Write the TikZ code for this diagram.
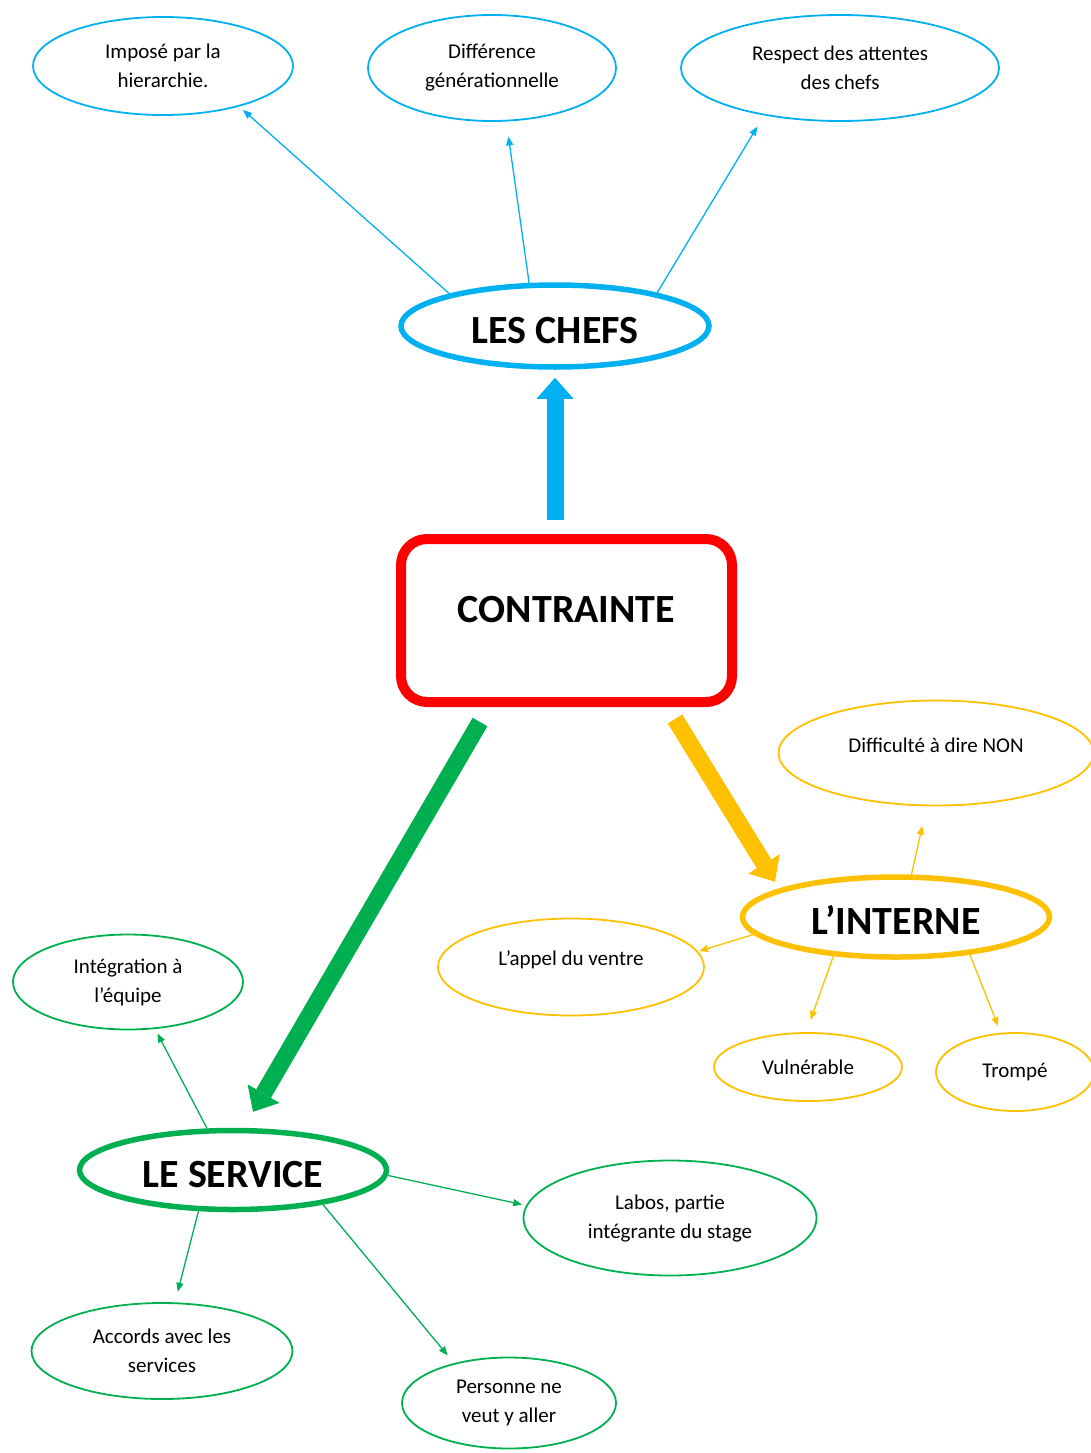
\documentclass[tikz,border=0pt]{standalone}
\usepackage{fontspec}
\setmainfont{Carlito}
\usetikzlibrary{shapes.geometric, arrows.meta, positioning}
\definecolor{chefblue}{RGB}{0,176,240}
\definecolor{boxred}{RGB}{255,0,0}
\definecolor{servgreen}{RGB}{0,176,80}
\definecolor{interngold}{RGB}{255,192,0}

\begin{document}
\begin{tikzpicture}[
    x=1pt, y=-1pt,
    idea/.style={ellipse, draw=#1, line width=1.8pt, inner sep=0pt, align=center, font=\fontsize{21}{29}\selectfont},
    theme/.style={ellipse, draw=#1, line width=5.5pt, inner sep=0pt, text height=34pt, text depth=0pt, font=\fontsize{40}{46}\selectfont\bfseries},
    core/.style={rectangle, draw=boxred, line width=10pt, rounded corners=26pt, inner sep=0pt, font=\fontsize{40}{46}\selectfont\bfseries},
    link/.style={-{Triangle[length=9pt,width=7pt]}, line width=1.3pt, draw=#1},
    fat/.style={-{Triangle[length=21pt,width=37pt,line width=0pt]}, line width=17pt, draw=#1}
]
\useasboundingbox (0,0) rectangle (1090,1453);

% Centre
\node[core, minimum width=331pt, minimum height=163pt, text depth=22pt] (contrainte) at (566.5,620.5) {CONTRAINTE};

% Les chefs
\node[theme=chefblue, minimum width=308pt, minimum height=82pt] (chefs) at (555,326) {LES CHEFS};
\node[idea=chefblue, minimum width=260pt, minimum height=98pt] (impose) at (163,66) {Imposé par la\\hierarchie.};
\node[idea=chefblue, minimum width=248pt, minimum height=106pt] (generation) at (492,68) {Différence\\générationnelle};
\node[idea=chefblue, minimum width=318pt, minimum height=106pt] (attentes) at (840,68) {Respect des attentes\\des chefs};

% L'interne
\node[theme=interngold, minimum width=307pt, minimum height=80pt] (interne) at (896,917) {L’INTERNE};
\node[idea=interngold, minimum width=315pt, minimum height=105pt, text depth=16pt] (direnon) at (936,753) {Difficulté à dire NON};
\node[idea=interngold, minimum width=266pt, minimum height=97pt, text depth=18pt] (ventre) at (571,967) {L’appel du ventre};
\node[idea=interngold, minimum width=188pt, minimum height=68pt] (vulnerable) at (808,1067) {Vulnérable};
\node[idea=interngold, minimum width=158pt, minimum height=78pt] (trompe) at (1015,1072) {Trompé};

% Le service
\node[theme=servgreen, minimum width=307pt, minimum height=79pt] (service) at (233,1170) {LE SERVICE};
\node[idea=servgreen, minimum width=230pt, minimum height=95pt] (equipe) at (128,982) {Intégration à\\l’équipe};
\node[idea=servgreen, minimum width=293pt, minimum height=115pt] (labos) at (670,1218) {Labos, partie\\intégrante du stage};
\node[idea=servgreen, minimum width=261pt, minimum height=96pt] (accords) at (162,1351) {Accords avec les\\services};
\node[idea=servgreen, minimum width=214pt, minimum height=91pt] (personne) at (509,1403) {Personne ne\\veut y aller};

% Big arrows
\draw[fat=chefblue, shorten <=14pt, shorten >=8pt] (chefs.south |- contrainte.north) -- (chefs.south);
\draw[fat=servgreen] ([xshift=-86.5pt, yshift=-15pt]contrainte.south) -- ([xshift=20pt, yshift=16pt]service.north);
\draw[fat=interngold] ([xshift=108.5pt, yshift=-12pt]contrainte.south) -- ([xshift=-121pt, yshift=-7.5pt]interne.north);

% Arrows
\draw[link=chefblue, shorten >=5pt] (chefs.163) -- (impose.-28);
\draw[link=chefblue, shorten >=15pt] (chefs.121) -- (generation.-75);
\draw[link=chefblue, shorten >=13pt] (chefs.18) -- (attentes.-148);
\draw[link=interngold, shorten >=20pt] (interne.70) -- (direnon.-100);
\draw[link=interngold, shorten >=1pt] (interne.187) -- (ventre.7);
\draw[link=interngold, shorten >=13pt] (interne.-148) -- (vulnerable.93);
\draw[link=interngold, shorten >=7pt] (interne.-27) -- (trompe.110);
\draw[link=servgreen, shorten >=5pt] (service.122) -- (equipe.-60);
\draw[link=servgreen, shorten >=4pt] (service.-2) -- (labos.175);
\draw[link=servgreen, shorten >=11pt] (service.-130) -- (accords.75);
\draw[link=servgreen, shorten >=10pt] (service.-21) -- (personne.144);

\end{tikzpicture}
\end{document}
